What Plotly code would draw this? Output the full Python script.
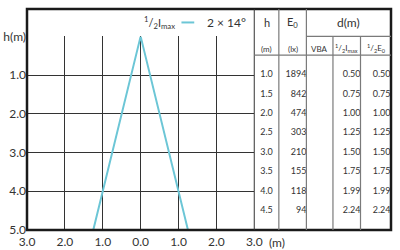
import plotly.graph_objects as go

# ---- data ----
x_ticks = [-3, -2, -1, 0, 1, 2, 3]
x_tick_text = ["3.0", "2.0", "1.0", "0.0", "1.0", "2.0", "3.0"]
y_ticks = [0, 1, 2, 3, 4, 5]
y_tick_text = ["h(m)", "1.0", "2.0", "3.0", "4.0", "5.0"]

beam_x = [-1.25, 0.0, 1.25]
beam_y = [5.0, 0.0, 5.0]
beam_name = "2 × 14°"

h_vals = [1.0, 1.5, 2.0, 2.5, 3.0, 3.5, 4.0, 4.5]
e0_vals = [1894, 842, 474, 303, 210, 155, 118, 94]
d_imax = [0.50, 0.75, 1.00, 1.25, 1.50, 1.75, 1.99, 2.24]
d_e0 = [0.50, 0.75, 1.00, 1.25, 1.50, 1.75, 1.99, 2.24]

# ---- layout helpers (pixel geometry) ----
W, H = 400, 250
ML, MR, MT, MB = 27, 3, 1, 19
PW = W - ML - MR
PH = H - MT - MB


def px(xp):
    return (xp - ML) / PW


def py(yp):
    return (MT + PH - yp) / PH


FONT = "Lato, 'Open Sans', sans-serif"
TXT = "#333333"
BEAM = "#6cc6d6"
GRID = "#333333"
TAB = "#7a7a7a"

chart_right = px(258)
chart_top = py(29.5)

fig = go.Figure()

fig.add_trace(go.Scatter(
    x=beam_x, y=beam_y, mode="lines", name=beam_name,
    line=dict(color=BEAM, width=2), showlegend=False,
    xaxis="x", yaxis="y",
))


def col(v):
    return [v] * len(h_vals)


def text_trace(xpos, texts, pos):
    return go.Scatter(
        x=col(xpos), y=h_vals, mode="text", text=texts, textposition=pos,
        textfont=dict(family=FONT, size=9, color=TXT), cliponaxis=False,
        showlegend=False, xaxis="x2", yaxis="y2", hoverinfo="skip",
    )


fig.add_trace(text_trace(12.5, [f"{v:.1f}" for v in h_vals], "middle center"))
fig.add_trace(text_trace(53, [str(v) for v in e0_vals], "middle left"))
fig.add_trace(text_trace(108, [f"{v:.2f}" for v in d_imax], "middle left"))
fig.add_trace(text_trace(138.5, [f"{v:.2f}" for v in d_e0], "middle left"))

shapes = []
shapes.append(dict(type="rect", xref="paper", yref="paper", x0=0, x1=1, y0=0, y1=1,
                   line=dict(color="#1a1a1a", width=2.5)))
shapes.append(dict(type="line", xref="paper", yref="paper", x0=chart_right, x1=chart_right,
                   y0=0, y1=1, line=dict(color=GRID, width=1)))
for xp in [283, 311]:
    shapes.append(dict(type="line", xref="paper", yref="paper", x0=px(xp), x1=px(xp),
                       y0=0, y1=1, line=dict(color=TAB, width=1.2)))
for xp in [338, 366]:
    shapes.append(dict(type="line", xref="paper", yref="paper", x0=px(xp), x1=px(xp),
                       y0=0, y1=chart_top, line=dict(color=TAB, width=1.2)))
shapes.append(dict(type="line", xref="paper", yref="paper", x0=px(311), x1=1,
                   y0=chart_top, y1=chart_top, line=dict(color=TAB, width=1.2)))
shapes.append(dict(type="line", xref="paper", yref="paper", x0=chart_right, x1=1,
                   y0=py(49), y1=py(49), line=dict(color=TAB, width=1.2)))
shapes.append(dict(type="line", xref="paper", yref="paper", x0=px(184), x1=px(197),
                   y0=py(15), y1=py(15), line=dict(color=BEAM, width=2)))


def ann(text, xp, yp, size, xanchor="center"):
    return dict(text=text, xref="paper", yref="paper", x=px(xp), y=py(yp),
                xanchor=xanchor, yanchor="middle", showarrow=False,
                font=dict(family=FONT, size=size, color=TXT))


annotations = [
    ann("<sup>1</sup>/<sub>2</sub>I<sub>max</sub>", 179, 15, 11, "right"),
    ann(beam_name, 208, 15, 12, "left"),
    ann("h", 270.5, 15, 11),
    ann("E<sub>0</sub>", 297, 15, 11),
    ann("d(m)", 354, 15, 12),
    ann("(m)", 270.5, 43, 8),
    ann("(lx)", 297, 43, 8),
    ann("VBA", 324.5, 43, 8),
    ann("<sup>1</sup>/<sub>2</sub>I<sub>max</sub>", 352, 42, 8),
    ann("<sup>1</sup>/<sub>2</sub>E<sub>0</sub>", 382, 42, 8),
    ann("(m)", 271, 244, 12, "left"),
]

fig.update_layout(
    width=W, height=H,
    margin=dict(l=ML, r=MR, t=MT, b=MB, pad=0),
    paper_bgcolor="white", plot_bgcolor="white",
    showlegend=False,
    xaxis=dict(domain=[0, chart_right], range=[-3, 3], tickvals=x_ticks, ticktext=x_tick_text,
               showgrid=True, gridcolor=GRID, gridwidth=1, zeroline=False, showline=False,
               ticks="", ticklabelstandoff=3,
               tickfont=dict(family=FONT, size=12, color=TXT), fixedrange=True),
    yaxis=dict(domain=[0, chart_top], range=[5, 0], tickvals=y_ticks, ticktext=y_tick_text,
               showgrid=True, gridcolor=GRID, gridwidth=1, zeroline=False, showline=False,
               ticks="", tickfont=dict(family=FONT, size=12, color=TXT), fixedrange=True),
    xaxis2=dict(domain=[chart_right, 1], range=[0, 139], visible=False, fixedrange=True,
                anchor="y2"),
    yaxis2=dict(domain=[0, chart_top], range=[5, 0], visible=False, showgrid=False,
                fixedrange=True, anchor="x2"),
    shapes=shapes,
    annotations=annotations,
)

fig.write_html("out.html")
